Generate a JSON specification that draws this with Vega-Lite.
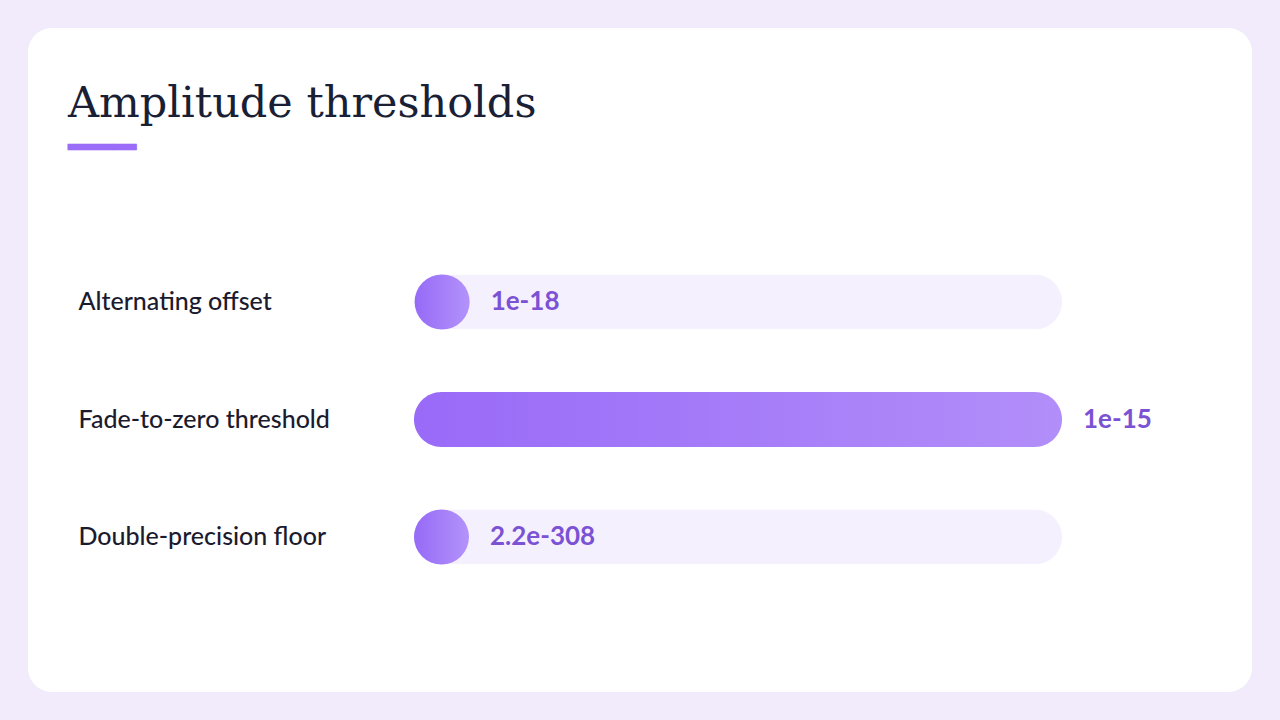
{
  "$schema": "https://vega.github.io/schema/vega-lite/v6.json",
  "width": 1224,
  "height": 664,
  "autosize": {"type": "none"},
  "padding": {"left": 28, "top": 28, "right": 28, "bottom": 28},
  "background": "#f1ebfc",
  "view": {"fill": "#ffffff", "stroke": null, "cornerRadius": 24},
  "title": {
    "text": "Amplitude thresholds",
    "subtitle": "━━━",
    "anchor": "start",
    "frame": "group",
    "orient": "top",
    "offset": -89,
    "dx": 40,
    "dy": 85,
    "baseline": "alphabetic",
    "font": "DejaVu Serif",
    "fontSize": 43,
    "fontWeight": "normal",
    "color": "#1a1f36",
    "subtitleFont": "DejaVu Sans",
    "subtitleFontSize": 38,
    "subtitleColor": "#9b6cf8",
    "subtitlePadding": 0
  },
  "data": {
    "values": [
      {"label": "Alternating offset", "value": 1e-18, "text": "1e-18"},
      {"label": "Fade-to-zero threshold", "value": 1e-15, "text": "1e-15"},
      {"label": "Double-precision floor", "value": 2.2e-308, "text": "2.2e-308"}
    ]
  },
  "transform": [{"joinaggregate": [{"op": "max", "field": "value", "as": "maxv"}]}],
  "encoding": {
    "y": {
      "field": "label",
      "type": "nominal",
      "sort": null,
      "scale": {"range": [215.25, 567.75], "paddingInner": 0.532, "paddingOuter": 0.266},
      "axis": {
        "title": null,
        "domain": false,
        "ticks": false,
        "grid": false,
        "labelAlign": "left",
        "labelPadding": -50,
        "labelFont": "Lato",
        "labelFontSize": 25,
        "labelFontWeight": 500,
        "labelColor": "#1c1b2e",
        "labelLimit": 400
      }
    }
  },
  "layer": [
    {
      "mark": {"type": "bar", "cornerRadius": 27.5, "color": "#f5f0fe"},
      "encoding": {
        "x": {"field": "maxv", "type": "quantitative", "scale": {"domain": [0, 1e-15], "range": [386, 1034]}, "axis": null}
      }
    },
    {
      "transform": [{"filter": "datum.value >= datum.maxv * 0.05"}],
      "mark": {
        "type": "bar",
        "cornerRadius": 27.5,
        "color": {"gradient": "linear", "x1": 0, "x2": 1, "y1": 0, "y2": 0,
          "stops": [{"offset": 0, "color": "#996af8"}, {"offset": 1, "color": "#b28ef9"}]}
      },
      "encoding": {"x": {"field": "value", "type": "quantitative"}}
    },
    {
      "transform": [{"filter": "datum.value < datum.maxv * 0.05"}],
      "mark": {
        "type": "point",
        "shape": "circle",
        "filled": true,
        "opacity": 1,
        "size": 3025,
        "xOffset": 27.5,
        "color": {"gradient": "linear", "x1": 0, "x2": 1, "y1": 0, "y2": 0,
          "stops": [{"offset": 0, "color": "#966af7"}, {"offset": 1, "color": "#b393fa"}]}
      },
      "encoding": {"x": {"field": "value", "type": "quantitative"}}
    },
    {
      "transform": [{"filter": "datum.value < datum.maxv * 0.05"}],
      "mark": {"type": "text", "align": "left", "baseline": "middle", "dx": 76, "font": "Lato", "fontSize": 26, "fontWeight": "bold", "color": "#7b52d4"},
      "encoding": {"x": {"field": "value", "type": "quantitative"}, "text": {"field": "text"}}
    },
    {
      "transform": [{"filter": "datum.value >= datum.maxv * 0.05"}],
      "mark": {"type": "text", "align": "left", "baseline": "middle", "dx": 21, "font": "Lato", "fontSize": 26, "fontWeight": "bold", "color": "#7b52d4"},
      "encoding": {"x": {"field": "value", "type": "quantitative"}, "text": {"field": "text"}}
    }
  ]
}
